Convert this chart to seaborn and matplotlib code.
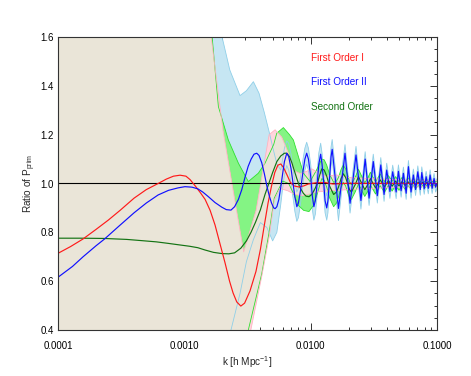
import numpy as np
import pandas as pd
import matplotlib
matplotlib.use("Agg")
import matplotlib.pyplot as plt
from matplotlib.patches import Polygon
from matplotlib.ticker import FixedLocator, FixedFormatter, LogLocator, MultipleLocator, NullFormatter, FormatStrFormatter
import seaborn as sns

# ---------------- data ----------------
# First Order II (blue line): smooth part
blue_k = [0.0001, 0.00013, 0.000158, 0.0002, 0.000234, 0.0003, 0.0004, 0.0005, 0.00062, 0.00075,
          0.000891, 0.00101, 0.00115, 0.00128, 0.0014, 0.00155, 0.00175, 0.00198, 0.00215, 0.00234,
          0.0025, 0.00268, 0.00285, 0.00302, 0.0032, 0.00338, 0.00356, 0.00374, 0.0039, 0.0041,
          0.0043, 0.0045, 0.0047, 0.0049, 0.0051, 0.00523, 0.0054, 0.0056]
blue_v = [0.616, 0.66, 0.70, 0.745, 0.773, 0.823, 0.88, 0.92, 0.953, 0.972,
          0.982, 0.987, 0.985, 0.978, 0.965, 0.946, 0.922, 0.903, 0.893, 0.891,
          0.905, 0.935, 0.975, 1.025, 1.07, 1.10, 1.12, 1.124, 1.115, 1.085,
          1.04, 0.99, 0.95, 0.92, 0.90, 0.897, 0.905, 0.935]
# First Order II oscillating part, with half-width of its light-blue band
blue_osc_k = [0.0058, 0.0060, 0.0062, 0.00647, 0.0067, 0.0070, 0.0073, 0.0075, 0.00777, 0.0080,
              0.0083, 0.0087, 0.0090, 0.0093, 0.0096, 0.0100, 0.0103, 0.0106, 0.0109, 0.0113,
              0.0116, 0.0120, 0.0123, 0.0127, 0.0130, 0.0134, 0.0137, 0.0141, 0.0145, 0.0148,
              0.0166, 0.0187, 0.0205, 0.02285, 0.0250, 0.0270, 0.0290, 0.0313, 0.0337, 0.0359,
              0.0381, 0.0400, 0.0424, 0.0446, 0.0475, 0.0495, 0.0520, 0.0542, 0.0570, 0.0594,
              0.0623, 0.0650, 0.0677, 0.0705, 0.0737, 0.0758, 0.0792, 0.0820, 0.0853, 0.0882,
              0.0915, 0.0948, 0.0975, 0.1]
blue_osc_v = [0.985, 1.04, 1.09, 1.124, 1.11, 1.06, 0.99, 0.945, 0.905, 0.92,
              0.97, 1.05, 1.10, 1.124, 1.10, 1.03, 0.95, 0.905, 0.93, 1.01,
              1.08, 1.12, 1.08, 1.0, 0.93, 0.90, 0.93, 1.02, 1.11, 1.14,
              0.898, 1.124, 0.919, 1.117, 0.93, 1.10, 0.94, 1.09, 0.95, 1.076,
              0.955, 1.055, 0.967, 1.048, 0.965, 1.05, 0.97, 1.042, 0.96, 1.069,
              0.965, 1.035, 0.975, 1.048, 0.975, 1.045, 0.978, 1.028, 0.98, 1.035,
              0.98, 1.021, 0.985, 1.0]
blue_osc_hw = [0.07, 0.06, 0.055, 0.05, 0.055, 0.06, 0.06, 0.06, 0.06, 0.06,
               0.055, 0.05, 0.045, 0.045, 0.045, 0.05, 0.055, 0.055, 0.055, 0.05,
               0.045, 0.045, 0.045, 0.045, 0.05, 0.05, 0.05, 0.045, 0.04, 0.04,
               0.05, 0.035, 0.04, 0.035, 0.035, 0.03, 0.03, 0.03, 0.03, 0.03,
               0.028, 0.028, 0.028, 0.027, 0.027, 0.026, 0.026, 0.025, 0.025, 0.025,
               0.025, 0.024, 0.024, 0.024, 0.023, 0.023, 0.022, 0.022, 0.022, 0.021,
               0.021, 0.02, 0.02, 0.02]
# light-blue band edges at low k
bband_hi_k = [0.0001, 0.0017, 0.00199, 0.00229, 0.00276, 0.0031, 0.00352, 0.0039, 0.0043, 0.0047, 0.0050, 0.0054]
bband_hi_v = [2.5, 2.5, 1.6, 1.465, 1.36, 1.38, 1.417, 1.37, 1.29, 1.21, 1.15, 1.08]
bband_lo_k = [0.0001, 0.0021, 0.00234, 0.00276, 0.0031, 0.00352, 0.0040, 0.0045, 0.0050, 0.0054]
bband_lo_v = [0.2, 0.2, 0.40, 0.55, 0.68, 0.77, 0.84, 0.82, 0.765, 0.80]

# First Order I (red line) and pink band
red_k = [0.0001, 0.000126, 0.000158, 0.0002, 0.00025, 0.00031, 0.0004, 0.0005, 0.00062, 0.00072,
         0.00082, 0.000925, 0.00103, 0.00111, 0.00122, 0.00135, 0.00146, 0.0016, 0.00175, 0.0019,
         0.0021, 0.00228, 0.00243, 0.0026, 0.0028, 0.0030, 0.00331, 0.00369, 0.0040, 0.0043,
         0.0046, 0.0049, 0.0052, 0.0055, 0.0058, 0.0061, 0.0065, 0.0069, 0.0074, 0.0080,
         0.0088, 0.0096, 0.011, 0.013, 0.015, 0.02, 0.1]
red_v = [0.714, 0.742, 0.773, 0.812, 0.85, 0.89, 0.94, 0.975, 1.0, 1.018,
         1.03, 1.034, 1.03, 1.016, 0.99, 0.96, 0.935, 0.89, 0.83, 0.76,
         0.675, 0.60, 0.552, 0.515, 0.498, 0.51, 0.56, 0.64, 0.73, 0.83,
         0.92, 0.99, 1.045, 1.075, 1.08, 1.065, 1.035, 1.005, 0.99, 0.986,
         0.99, 0.998, 1.003, 1.004, 0.998, 1.001, 1.0]
pband_hi_k = [0.0001, 0.0015, 0.00163, 0.00202, 0.00257, 0.00295, 0.0037, 0.00469, 0.00523, 0.0059, 0.00667,
              0.00753, 0.0083, 0.0093, 0.0102, 0.0115, 0.013, 0.016, 0.02, 0.03, 0.05, 0.1]
pband_hi_v = [2.5, 2.5, 1.6, 1.22, 0.90, 0.72, 0.89, 1.20, 1.22, 1.19, 1.124,
              1.05, 1.04, 1.05, 1.06, 1.045, 1.03, 1.035, 1.025, 1.02, 1.015, 1.012]
pband_lo_k = [0.0001, 0.0031, 0.00336, 0.0041, 0.00469, 0.00515, 0.0057, 0.0066, 0.0075, 0.0085, 0.0095,
              0.011, 0.014, 0.02, 0.03, 0.05, 0.1]
pband_lo_v = [0.2, 0.2, 0.40, 0.62, 0.78, 0.93, 0.98, 0.97, 0.955, 0.95, 0.955,
              0.965, 0.97, 0.975, 0.98, 0.985, 0.988]

# Second Order (dark green line) and green band
dg_k = [0.0001, 0.00015, 0.00023, 0.00035, 0.00046, 0.0006, 0.00074, 0.0009, 0.0011, 0.00128,
        0.00145, 0.0017, 0.00198, 0.00225, 0.0025, 0.0028, 0.0031, 0.00337, 0.00365, 0.0040,
        0.00435, 0.0047, 0.0050, 0.0054, 0.0058, 0.0062, 0.00647, 0.0068, 0.0071, 0.0074,
        0.00777, 0.0082, 0.00875, 0.0092, 0.0097, 0.0102, 0.0108, 0.0113, 0.0118]
dg_v = [0.776, 0.776, 0.775, 0.771, 0.766, 0.761, 0.755, 0.749, 0.743, 0.737,
        0.728, 0.718, 0.713, 0.712, 0.716, 0.735, 0.765, 0.80, 0.84, 0.892,
        0.955, 1.005, 1.045, 1.09, 1.113, 1.124, 1.124, 1.11, 1.085, 1.055,
        1.02, 0.985, 0.96, 0.948, 0.946, 0.955, 0.978, 1.0, 1.035]
dg_osc_k = [0.01225, 0.0128, 0.0134, 0.0141, 0.0152, 0.016, 0.0166, 0.0174, 0.0181, 0.0189,
            0.0196, 0.0203, 0.021, 0.0225, 0.0239, 0.0254, 0.0268, 0.0283, 0.0297, 0.0326,
            0.0355, 0.0384, 0.0413, 0.0442, 0.047, 0.050, 0.053, 0.056, 0.059, 0.062,
            0.065, 0.068, 0.071, 0.074, 0.077, 0.080, 0.083, 0.086, 0.089, 0.092,
            0.095, 0.098, 0.1]
dg_osc_v = [1.06, 1.055, 1.03, 0.99, 0.955, 0.965, 0.985, 1.02, 1.04, 1.025,
            1.0, 0.975, 0.965, 0.995, 1.028, 1.0, 0.975, 0.995, 1.02, 0.982,
            1.015, 0.986, 1.012, 0.989, 1.01, 0.99, 1.008, 0.992, 1.007, 0.993,
            1.006, 0.994, 1.005, 0.995, 1.005, 0.995, 1.004, 0.996, 1.004, 0.996,
            1.003, 0.997, 1.0]
dg_osc_hw = [0.04, 0.042, 0.045, 0.048, 0.05, 0.045, 0.04, 0.037, 0.035, 0.035,
             0.035, 0.033, 0.03, 0.03, 0.03, 0.029, 0.028, 0.027, 0.026, 0.025,
             0.024, 0.022, 0.02, 0.02, 0.018, 0.018, 0.017, 0.016, 0.016, 0.015,
             0.015, 0.014, 0.014, 0.013, 0.013, 0.013, 0.012, 0.012, 0.012, 0.012,
             0.011, 0.011, 0.011]
gband_hi_k = [0.0001, 0.0015, 0.00166, 0.00186, 0.00223, 0.00268, 0.00321, 0.00385, 0.00435, 0.0051, 0.00539,
              0.00608, 0.0068, 0.0073, 0.0080, 0.00876, 0.0099, 0.0110]
gband_hi_v = [2.5, 2.5, 1.6, 1.315, 1.178, 1.083, 1.008, 1.042, 1.083, 1.16, 1.206,
              1.229, 1.20, 1.178, 1.11, 1.042, 1.008, 1.05]
gband_lo_k = [0.0001, 0.0030, 0.00321, 0.0041, 0.00469, 0.00515, 0.0060, 0.0067, 0.0073, 0.0080, 0.0088,
              0.0097, 0.0105, 0.0113]
gband_lo_v = [0.2, 0.2, 0.40, 0.63, 0.80, 0.94, 1.01, 1.0, 0.96, 0.91, 0.89,
              0.885, 0.91, 0.96]

labels = ["First Order I", "First Order II", "Second Order"]
xtick_vals = [0.0001, 0.001, 0.01, 0.1]
xtick_labels = ["0.0001", "0.0010", "0.0100", "0.1000"]

# ---------------- styling ----------------
sns.set_theme(style="ticks")
plt.rcParams['font.family'] = ['Liberation Sans', 'DejaVu Sans']
plt.rcParams['mathtext.default'] = 'regular'
plt.rcParams['font.size'] = 7

C_RED, C_BLUE, C_DG = '#ff1a1a', '#1010ff', '#137313'
F_BLUE, F_GREEN, F_PINK, F_BEIGE = '#c6e6f3', '#84f484', '#ffd5dd', '#eae5d8'
E_BLUE, E_GREEN, E_PINK = '#8fcfe8', '#2ee02e', '#ffb3c1'

fig = plt.figure(figsize=(4.71, 3.76), dpi=100)
ax = fig.add_axes([58 / 471, 46 / 376, 379 / 471, 293 / 376])
ax.set_xscale('log')
ax.set_xlim(1e-4, 1e-1)
ax.set_ylim(0.4, 1.6)


def polygon(khi, vhi, klo, vlo):
    xs = np.concatenate([np.asarray(khi), np.asarray(klo)[::-1]])
    ys = np.concatenate([np.asarray(vhi), np.asarray(vlo)[::-1]])
    return np.column_stack([xs, ys])


# assemble band edges
bo_k = np.asarray(blue_osc_k)
bo_v = np.asarray(blue_osc_v)
bo_hw = np.asarray(blue_osc_hw)
b_hi_k = np.concatenate([bband_hi_k, bo_k]); b_hi_v = np.concatenate([bband_hi_v, bo_v + bo_hw])
b_lo_k = np.concatenate([bband_lo_k, bo_k]); b_lo_v = np.concatenate([bband_lo_v, bo_v - bo_hw])

go_k = np.asarray(dg_osc_k)
go_v = np.asarray(dg_osc_v)
go_hw = np.asarray(dg_osc_hw)
g_hi_k = np.concatenate([gband_hi_k, go_k]); g_hi_v = np.concatenate([gband_hi_v, go_v + go_hw])
g_lo_k = np.concatenate([gband_lo_k, go_k]); g_lo_v = np.concatenate([gband_lo_v, go_v - go_hw])

blue_poly = Polygon(polygon(b_hi_k, b_hi_v, b_lo_k, b_lo_v), closed=True, fc=F_BLUE, ec='none', lw=0, zorder=1)
green_poly = Polygon(polygon(g_hi_k, g_hi_v, g_lo_k, g_lo_v), closed=True, fc=F_GREEN, ec='none', lw=0, zorder=1.1)
pink_poly = Polygon(polygon(pband_hi_k, pband_hi_v, pband_lo_k, pband_lo_v), closed=True, fc=F_PINK, ec='none', lw=0, zorder=1.2)
beige_poly = Polygon(polygon(g_hi_k, g_hi_v, g_lo_k, g_lo_v), closed=True, fc=F_BEIGE, ec='none', lw=0, zorder=1.3)
for p in (blue_poly, green_poly, pink_poly, beige_poly):
    ax.add_patch(p)
beige_poly.set_clip_path(pink_poly)

# band edges
for kk, vv, c in [(b_hi_k, b_hi_v, E_BLUE), (b_lo_k, b_lo_v, E_BLUE),
                  (g_hi_k, g_hi_v, E_GREEN), (g_lo_k, g_lo_v, E_GREEN),
                  (pband_hi_k, pband_hi_v, E_PINK), (pband_lo_k, pband_lo_v, E_PINK)]:
    ax.plot(kk, vv, color=c, lw=0.6, zorder=1.5)

ax.axhline(1.0, color='black', lw=0.8, zorder=2)

df = pd.concat([
    pd.DataFrame({'k': dg_k + dg_osc_k, 'ratio': dg_v + dg_osc_v, 'series': labels[2]}),
    pd.DataFrame({'k': red_k, 'ratio': red_v, 'series': labels[0]}),
    pd.DataFrame({'k': blue_k + blue_osc_k, 'ratio': blue_v + blue_osc_v, 'series': labels[1]}),
], ignore_index=True)
sns.lineplot(data=df, x='k', y='ratio', hue='series', hue_order=[labels[2], labels[0], labels[1]],
             palette={labels[0]: C_RED, labels[1]: C_BLUE, labels[2]: C_DG},
             estimator=None, sort=False, legend=False, lw=0.85, ax=ax, zorder=3)

# labels (legend as text)
for lab, c, yy in [(labels[0], C_RED, 0.927), (labels[1], C_BLUE, 0.845), (labels[2], C_DG, 0.761)]:
    ax.text(0.667, yy, lab, color=c, transform=ax.transAxes, ha='left', va='center', fontsize=7.2)

# axes cosmetics
ax.xaxis.set_major_locator(FixedLocator(xtick_vals))
ax.xaxis.set_major_formatter(FixedFormatter(xtick_labels))
ax.xaxis.set_minor_locator(LogLocator(base=10, subs=np.arange(2, 10)))
ax.xaxis.set_minor_formatter(NullFormatter())
ax.yaxis.set_major_locator(MultipleLocator(0.2))
ax.yaxis.set_major_formatter(FormatStrFormatter('%.1f'))
ax.yaxis.set_minor_locator(MultipleLocator(0.05))
ax.tick_params(which='both', direction='in', top=True, right=True, colors='#333333', labelcolor='black',
               width=0.7, labelsize=7)
ax.tick_params(which='major', length=5)
ax.tick_params(which='minor', length=2.5)
ax.tick_params(axis='x', which='major', pad=8)
ax.tick_params(axis='y', which='major', pad=3)
for s in ax.spines.values():
    s.set_color('#333333')
    s.set_linewidth(0.8)
    s.set_zorder(5)

ax.set_xlabel('k [h Mpc$^{-1}$]', fontsize=7.2)
ax.set_ylabel('Ratio of P$_{prim}$', fontsize=7.2)
ax.xaxis.set_label_coords(0.5, -0.082)
ax.yaxis.set_label_coords(-0.054, 0.5)

fig.savefig('out.png', dpi=100)
